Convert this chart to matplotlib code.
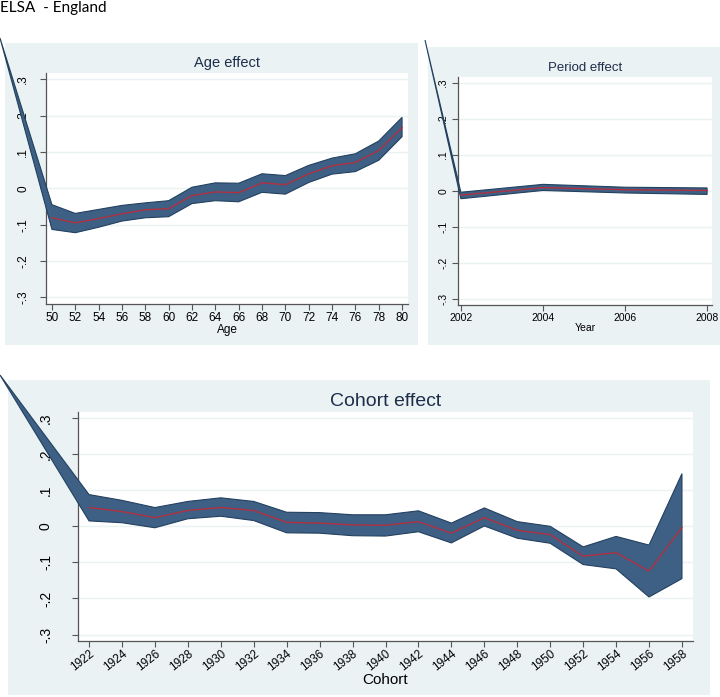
import matplotlib
matplotlib.use('Agg')
import matplotlib.pyplot as plt
from matplotlib.patches import Rectangle

W, H = 720, 697

# ---- data ----
age = [50, 52, 54, 56, 58, 60, 62, 64, 66, 68, 70, 72, 74, 76, 78, 80]
age_hi = [-0.045, -0.069, -0.058, -0.047, -0.040, -0.034, 0.003, 0.015, 0.014, 0.040, 0.035, 0.063, 0.083, 0.095, 0.130, 0.195]
age_mid = [-0.081, -0.095, -0.083, -0.070, -0.059, -0.056, -0.020, -0.010, -0.012, 0.015, 0.010, 0.040, 0.062, 0.071, 0.104, 0.167]
age_lo = [-0.113, -0.122, -0.107, -0.090, -0.081, -0.078, -0.042, -0.034, -0.037, -0.011, -0.016, 0.016, 0.039, 0.046, 0.077, 0.142]

year = [2002, 2004, 2006, 2008]
per_hi = [-0.004, 0.018, 0.010, 0.008]
per_mid = [-0.012, 0.009, 0.003, 0.001]
per_lo = [-0.022, 0.001, -0.006, -0.010]

cohort = list(range(1922, 1959, 2))
coh_hi = [0.088, 0.072, 0.052, 0.069, 0.079, 0.069, 0.039, 0.038, 0.032, 0.032,
          0.043, 0.009, 0.051, 0.013, 0.000, -0.057, -0.028, -0.052, 0.146]
coh_mid = [0.052, 0.041, 0.024, 0.044, 0.052, 0.044, 0.011, 0.009, 0.004, 0.003,
           0.013, -0.019, 0.024, -0.011, -0.023, -0.083, -0.073, -0.124, -0.003]
coh_lo = [0.015, 0.010, -0.004, 0.021, 0.028, 0.016, -0.018, -0.019, -0.026, -0.027,
          -0.015, -0.046, 0.001, -0.033, -0.047, -0.106, -0.118, -0.196, -0.145]

yticks = [-0.3, -0.2, -0.1, 0, 0.1, 0.2, 0.3]
ytick_labels = ['-.3', '-.2', '-.1', '0', '.1', '.2', '.3']

BG = '#eaf2f3'
BAND = '#3e6085'
EDGE = '#23405f'
RED = '#b03040'
TITLE = '#1e2d4a'
NARROW = ['Liberation Sans Narrow', 'Liberation Sans', 'DejaVu Sans']

plt.rcParams['font.family'] = ['Liberation Sans', 'DejaVu Sans']

fig = plt.figure(figsize=(W / 100, H / 100), dpi=100)


def px_rect(x0, y0, x1, y1):
    return [x0 / W, 1 - y1 / H, (x1 - x0) / W, (y1 - y0) / H]


# panel backgrounds (behind the axes)
for x0, y0, x1, y1 in [(5, 43, 418, 345), (428, 47, 720, 345), (8, 380, 710, 695)]:
    fig.patches.append(Rectangle((x0 / W, 1 - y1 / H), (x1 - x0) / W, (y1 - y0) / H,
                                 transform=fig.transFigure, facecolor=BG,
                                 edgecolor='none', zorder=-1))

fig.text(0.0, 1 - 8 / H, 'ELSA  - England', fontsize=11, family=['Lato', 'DejaVu Sans'],
         ha='left', va='center', color='black')


def panel(rect, xs, hi, mid, lo, xlim, apex_px, xticks, title, tsize, xlabel,
          tick_fs, family, ypad, rot=0):
    ax = fig.add_axes(px_rect(*rect))
    ax.set_facecolor('white')
    ax.set_xlim(*xlim)
    ax.set_ylim(-0.318, 0.317)
    for s in ['top', 'right']:
        ax.spines[s].set_visible(False)
    for s in ['left', 'bottom']:
        ax.spines[s].set_color('#555555')
        ax.spines[s].set_linewidth(0.9)
    ax.set_yticks(yticks)
    ax.set_yticklabels(ytick_labels, rotation=90, va='center', family=family,
                       fontsize=tick_fs)
    ax.set_xticks(xticks)
    if rot:
        ax.set_xticklabels([str(v) for v in xticks], rotation=rot, ha='right',
                           rotation_mode='anchor', family=family, fontsize=tick_fs - 1.5)
        ax.tick_params(axis='x', pad=1)
    else:
        ax.set_xticklabels([str(v) for v in xticks], family=family, fontsize=tick_fs)
        ax.tick_params(axis='x', pad=2)
    ax.tick_params(axis='y', length=4, color='#555555', pad=ypad)
    ax.tick_params(axis='x', length=4, color='#555555')
    ax.grid(axis='y', color=BG, linewidth=1.0)
    ax.set_axisbelow(True)
    ax.set_title(title, fontsize=tsize, color=TITLE, family=family, pad=4)
    if rot:
        fig.text((rect[0] + rect[2]) / 2 / W, 1 - 680 / H, xlabel, fontsize=tick_fs + 1,
                 family=family, ha='center', va='center')
    else:
        ax.set_xlabel(xlabel, fontsize=tick_fs, family=family, labelpad=0)

    # band polygon with its stray apex outside the plot
    fig.canvas.draw()
    apex = ax.transData.inverted().transform((apex_px[0], H - apex_px[1]))
    poly_x = [apex[0]] + list(xs) + list(xs[::-1])
    poly_y = [apex[1]] + list(hi) + list(lo[::-1])
    for p in ax.fill(poly_x, poly_y, facecolor=BAND, edgecolor=EDGE, linewidth=0.8,
                     zorder=3):
        p.set_clip_on(False)
    ax.plot(xs, mid, color=RED, linewidth=1.0, zorder=4)
    return ax


panel((46, 73, 408, 304), age, age_hi, age_mid, age_lo, (49.49, 80.51), (0, 38),
      age, 'Age effect', 10.5, 'Age', 8.5, ['Liberation Sans', 'DejaVu Sans'], 8)

panel((458, 77, 712, 305), year, per_hi, per_mid, per_lo, (2001.93, 2008.12), (425, 40),
      year, 'Period effect', 9.5, 'Year', 7.5, NARROW, 3)

panel((78, 412, 693, 641), cohort, coh_hi, coh_mid, coh_lo, (1921.33, 1958.67), (0, 375),
      cohort, 'Cohort effect', 14, 'Cohort', 10, ['Liberation Sans', 'DejaVu Sans'], 14, rot=38)

fig.savefig('out.png', dpi=100)
